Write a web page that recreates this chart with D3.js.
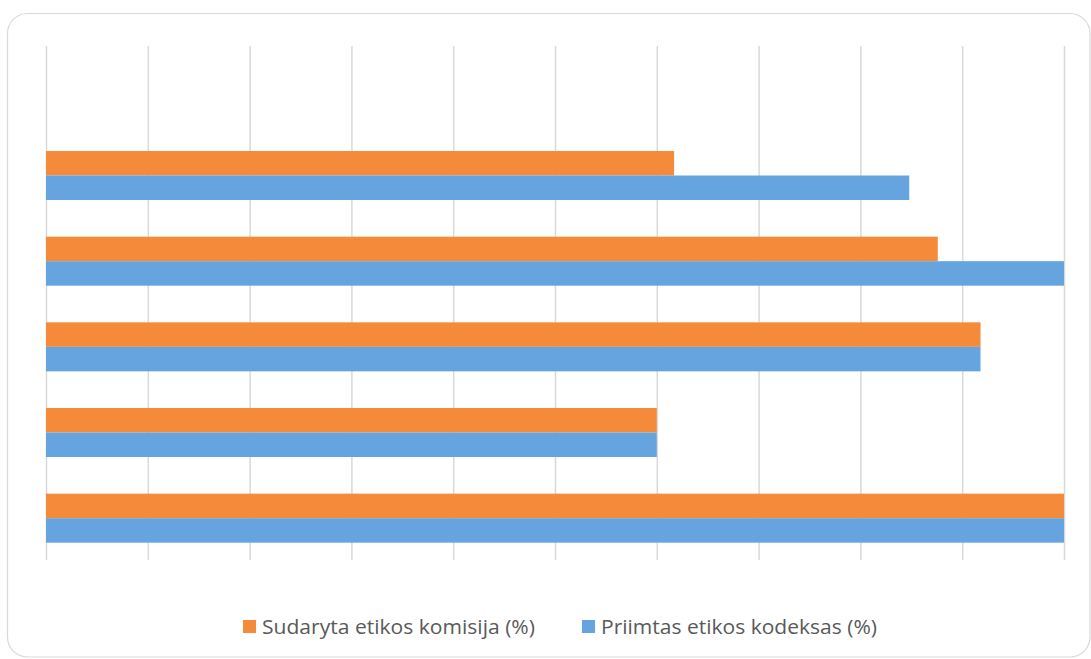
<!DOCTYPE html>
<html>
<head>
<meta charset="utf-8">
<script src="https://cdn.jsdelivr.net/npm/d3@7"></script>
<style>
  html, body { margin: 0; padding: 0; background: #fff; }
  svg { display: block; }
</style>
</head>
<body>
<svg id="chart" width="1091" height="659"></svg>
<script>
// Categories (top to bottom); the first row has no entries
const categories = ["1", "2", "3", "4", "5", "6"];
const seriesNames = ["Sudaryta etikos komisija (%)", "Priimtas etikos kodeksas (%)"];
const komisija = [0, 61.7, 87.6, 91.8, 60, 100];
const kodeksas = [0, 84.8, 100, 91.8, 60, 100];
const xTicks = [0, 10, 20, 30, 40, 50, 60, 70, 80, 90, 100];
const colors = ["#F68A3B", "#66A4DF"];

const svg = d3.select("#chart");
const plot = { left: 46, right: 1064, top: 46, bottom: 560 };

// Outer rounded frame
svg.append("rect")
  .attr("x", 7.5).attr("y", 13.5)
  .attr("width", 1082.5).attr("height", 643.5)
  .attr("rx", 20).attr("ry", 20)
  .attr("fill", "#fff")
  .attr("stroke", "#d9d9d9")
  .attr("stroke-width", 1.2);

const x = d3.scaleLinear().domain([0, 100]).range([plot.left, plot.right]);
const y0 = d3.scaleBand().domain(categories).range([plot.top + 1, plot.bottom + 1]).padding(0);
const y1 = d3.scaleBand().domain(seriesNames)
  .range([0, y0.bandwidth()]).paddingInner(0).paddingOuter(0.748);

// Vertical gridlines
const grid = d3.axisBottom(x).tickValues(xTicks)
  .tickSize(-(plot.bottom - plot.top)).tickFormat("");
svg.append("g")
  .attr("transform", `translate(0,${plot.bottom})`)
  .call(grid)
  .call(g => g.select(".domain").remove())
  .call(g => g.selectAll(".tick line")
    .attr("stroke", "#d9d9d9").attr("stroke-width", 1.5));

// Bars
const rows = categories.map((c, i) => ({ cat: c, values: [komisija[i], kodeksas[i]] }));
const groups = svg.append("g").selectAll("g")
  .data(rows).join("g")
  .attr("transform", d => `translate(0,${y0(d.cat)})`);

groups.selectAll("rect")
  .data(d => d.values.map((v, j) => ({ name: seriesNames[j], value: v, j })))
  .join("rect")
  .filter(d => d.value > 0)
  .attr("x", x(0))
  .attr("y", d => y1(d.name))
  .attr("width", d => x(d.value) - x(0))
  .attr("height", y1.bandwidth())
  .attr("fill", d => colors[d.j]);

// Legend
const legend = svg.append("g")
  .attr("font-family", "'Open Sans', sans-serif")
  .attr("font-size", 20)
  .attr("fill", "#595959");
const legendX = [243, 582];
const legendTextWidth = [273, 276];
seriesNames.forEach((name, j) => {
  const g = legend.append("g").attr("transform", `translate(${legendX[j]},620)`);
  g.append("rect").attr("width", 13).attr("height", 13).attr("fill", colors[j]);
  g.append("text").attr("x", 19).attr("y", 14)
    .attr("textLength", legendTextWidth[j])
    .attr("lengthAdjust", "spacingAndGlyphs")
    .text(name);
});
</script>
</body>
</html>
